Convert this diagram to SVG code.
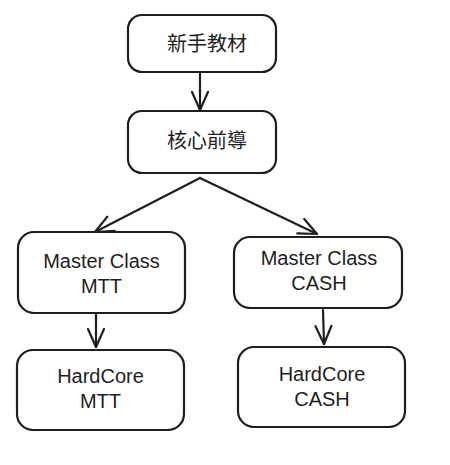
<svg xmlns="http://www.w3.org/2000/svg" width="450" height="465" viewBox="0 0 450 465">
<style>
.box{fill:#ffffff;stroke:#1e1e1e;stroke-width:2.2;}
.lbl{font-family:"Liberation Sans","Noto Sans",sans-serif;font-size:20px;fill:#1e1e1e;text-anchor:middle;}
.cjk{font-family:"Noto Sans CJK TC","Noto Sans CJK SC",sans-serif;font-size:20px;fill:#1e1e1e;text-anchor:middle;}
.edge{fill:none;stroke:#1e1e1e;stroke-width:2.2;stroke-linecap:round;}
</style>
<defs>
<marker id="ah" markerUnits="userSpaceOnUse" markerWidth="24" markerHeight="24" viewBox="-20 -10 24 20" refX="0" refY="0" orient="auto">
<path d="M-18,-8 L0,0 L-18,8" fill="none" stroke="#1e1e1e" stroke-width="2.2" stroke-linecap="round" stroke-linejoin="round"/>
</marker>
</defs>
<rect width="450" height="465" fill="#ffffff"/>
<g id="edges">
<path class="edge" d="M200,73 L200,110" marker-end="url(#ah)"/>
<path class="edge" d="M200,178 L95,232" marker-end="url(#ah)"/>
<path class="edge" d="M200,178 L317,234" marker-end="url(#ah)"/>
<path class="edge" d="M96,314 L96,347" marker-end="url(#ah)"/>
<path class="edge" d="M323,310 L324,344" marker-end="url(#ah)"/>
</g>
<g id="n1">
<rect class="box" x="128" y="15" width="148" height="57" rx="14"/>
<text class="cjk" x="207" y="51">新手教材</text>
</g>
<g id="n2">
<rect class="box" x="128" y="111" width="148" height="62" rx="14"/>
<text class="cjk" x="207" y="148">核心前導</text>
</g>
<g id="n3">
<rect class="box" x="18" y="232" width="167" height="81" rx="16"/>
<text class="lbl" x="101.5" y="268">Master Class</text>
<text class="lbl" x="101.5" y="293">MTT</text>
</g>
<g id="n4">
<rect class="box" x="234" y="237" width="168" height="71" rx="16"/>
<text class="lbl" x="319" y="265">Master Class</text>
<text class="lbl" x="319" y="290">CASH</text>
</g>
<g id="n5">
<rect class="box" x="17" y="350" width="167" height="80" rx="16"/>
<text class="lbl" x="100.5" y="383">HardCore</text>
<text class="lbl" x="100.5" y="408">MTT</text>
</g>
<g id="n6">
<rect class="box" x="238" y="347" width="167" height="80" rx="16"/>
<text class="lbl" x="322" y="381">HardCore</text>
<text class="lbl" x="322" y="406">CASH</text>
</g>
</svg>
